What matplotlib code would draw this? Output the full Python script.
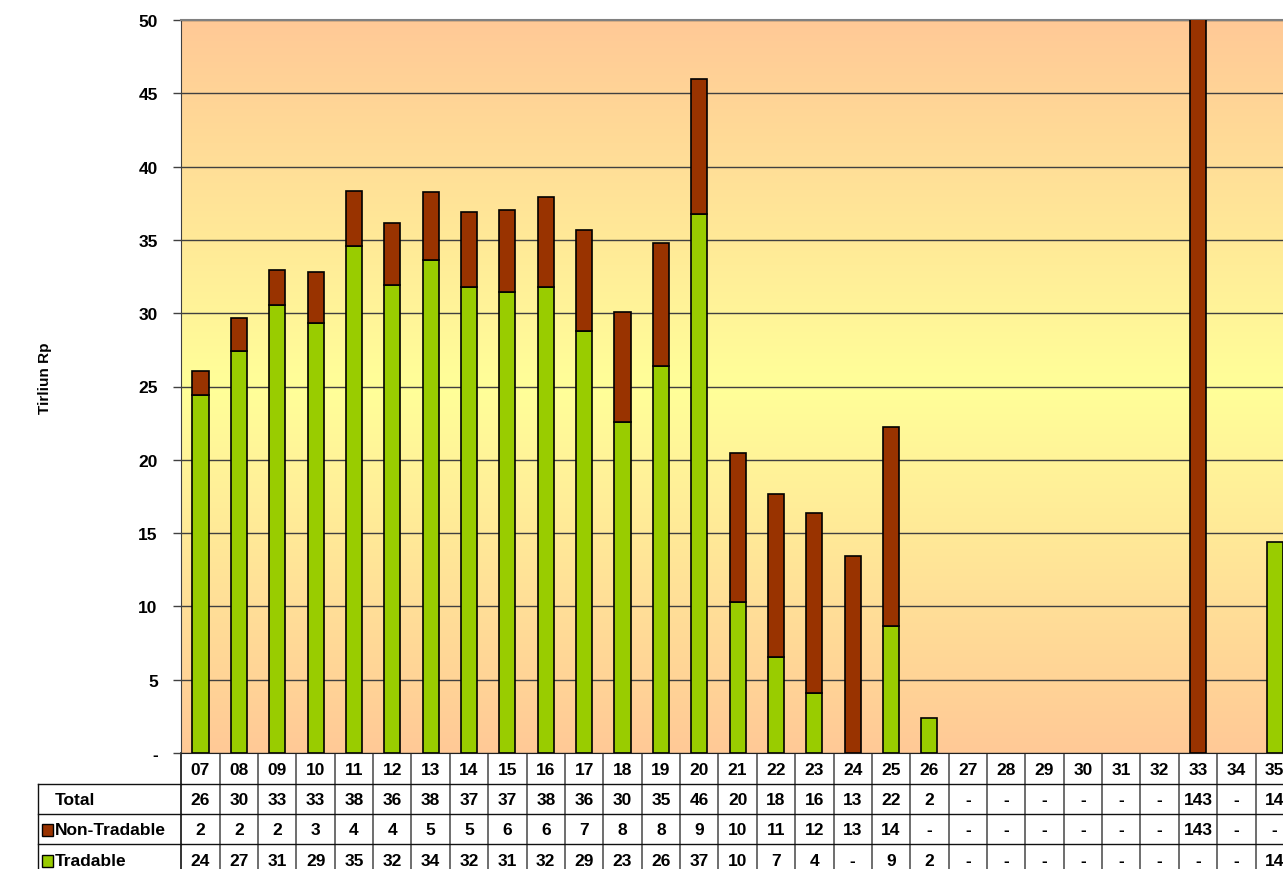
import numpy as np
import matplotlib
matplotlib.use("Agg")
import matplotlib.pyplot as plt
from matplotlib.colors import to_rgb
from matplotlib.lines import Line2D
from matplotlib.patches import Rectangle
import matplotlib.transforms as mtransforms

plt.rcParams['font.family'] = ['Liberation Sans', 'DejaVu Sans']
plt.rcParams['font.weight'] = 'bold'

# data (Tirliun Rp)
categories = ['07', '08', '09', '10', '11', '12', '13', '14', '15', '16',
              '17', '18', '19', '20', '21', '22', '23', '24', '25', '26',
              '27', '28', '29', '30', '31', '32', '33', '34', '35']
non_tradable = [1.64, 2.24, 2.4, 3.44, 3.8, 4.21, 4.6, 5.11, 5.62, 6.13,
                6.86, 7.52, 8.37, 9.17, 10.15, 11.14, 12.29, 13.46, 13.62, 0,
                0, 0, 0, 0, 0, 0, 143, 0, 0]
tradable = [24.45, 27.4, 30.55, 29.35, 34.55, 31.95, 33.65, 31.8, 31.45, 31.8,
            28.8, 22.55, 26.4, 36.8, 10.3, 6.55, 4.1, 0, 8.65, 2.4,
            0, 0, 0, 0, 0, 0, 0, 0, 14.4]
y_ticks = [0, 5, 10, 15, 20, 25, 30, 35, 40, 45, 50]

GREEN = '#99CC00'
BROWN = '#993300'
W, H = 1283, 870
FS = 12.5

fig = plt.figure(figsize=(W / 100, H / 100), dpi=100)
ax_left, ax_right, ax_top, ax_bot = 181.3, 1293.9, 21, 754
ax = fig.add_axes([ax_left / W, (H - ax_bot) / H,
                   (ax_right - ax_left) / W, (ax_bot - ax_top) / H])

n = len(categories)
x = np.arange(n)

# background gradient: peach - yellow - peach
peach = np.array(to_rgb('#FFC996'))
yellow = np.array(to_rgb('#FFFF99'))
t = np.linspace(0, 1, 400)
mix = 1 - np.abs(2 * t - 1)
grad = peach[None, :] * (1 - mix[:, None]) + yellow[None, :] * mix[:, None]
ax.imshow(grad[:, None, :], extent=(-0.5, n - 0.5, 0, 50), aspect='auto',
          origin='lower', zorder=0)

trad = np.array(tradable)
nontr = np.array(non_tradable)
bw = 0.42
m = trad > 0
ax.bar(x[m], trad[m], bw, color=GREEN, edgecolor='black', linewidth=1.2,
       zorder=3)
m = nontr > 0
ax.bar(x[m], nontr[m], bw, bottom=trad[m], color=BROWN, edgecolor='black',
       linewidth=1.2, zorder=3)

ax.set_xlim(-0.5, n - 0.5)
ax.set_ylim(0, 50)
ax.set_yticks(y_ticks)
ax.set_yticklabels(['-' if v == 0 else str(v) for v in y_ticks],
                   fontsize=FS, fontweight='bold')
ax.tick_params(axis='y', length=6, width=1, color='#404040', pad=11)
ax.set_xticks([])
ax.yaxis.grid(True, color='#404040', linewidth=1, zorder=1)
ax.set_axisbelow(True)
ax.spines['right'].set_visible(False)
ax.spines['top'].set_color('#808080')
ax.spines['top'].set_linewidth(1.5)
ax.spines['left'].set_color('#404040')
ax.spines['bottom'].set_color('#202020')

fig.text(45 / W, 1 - 378 / H, 'Tirliun Rp', rotation=90, ha='center',
         va='center', fontsize=11, fontweight='bold')

# data table below the chart
ov = fig.add_axes([0, 0, 1, 1], zorder=-1)
ov.set_xlim(0, W)
ov.set_ylim(H, 0)
ov.axis('off')
tr = mtransforms.blended_transform_factory(ax.transData, ov.transData)

row_edges = [754, 785, 815, 845, 876]
label_left = 37.5
lc = '#111111'


def fmt(v):
    r = int(round(v))
    return '-' if r == 0 else str(r)


totals = trad + nontr
rows = [
    [c for c in categories],
    [fmt(v) for v in totals],
    [fmt(v) for v in nontr],
    [fmt(v) for v in trad],
]

# vertical lines between columns
for i in range(n + 1):
    xe = i - 0.5
    ov.add_line(Line2D([xe, xe], [row_edges[0], row_edges[-1]],
                       color='#555555' if i > 0 else lc, lw=1.2,
                       transform=tr, clip_on=False))
# horizontal lines
for ye in row_edges[1:]:
    ov.add_line(Line2D([-0.5, n - 0.5], [ye, ye], color=lc, lw=1,
                       transform=tr, clip_on=False))
    ov.add_line(Line2D([label_left, ax_left], [ye, ye], color=lc, lw=1,
                       clip_on=False))
ov.add_line(Line2D([label_left, label_left], [row_edges[1], row_edges[-1]],
                   color=lc, lw=1, clip_on=False))

for r, vals in enumerate(rows):
    yc = (row_edges[r] + row_edges[r + 1]) / 2 + 1
    for i, s in enumerate(vals):
        ov.text(i, yc, s, transform=tr, ha='center', va='center',
                fontsize=FS, fontweight='bold', clip_on=False)

ov.text(55, (row_edges[1] + row_edges[2]) / 2 + 1, 'Total', ha='left',
        va='center', fontsize=FS, fontweight='bold')
for r, (name, col) in enumerate([('Non-Tradable', BROWN),
                                 ('Tradable', GREEN)], start=2):
    yc = (row_edges[r] + row_edges[r + 1]) / 2 + 1
    ov.add_patch(Rectangle((42, yc - 6), 11, 12, facecolor=col,
                           edgecolor='black', lw=1))
    ov.text(55, yc, name, ha='left', va='center', fontsize=FS,
            fontweight='bold')

fig.savefig('out.png', dpi=100)
